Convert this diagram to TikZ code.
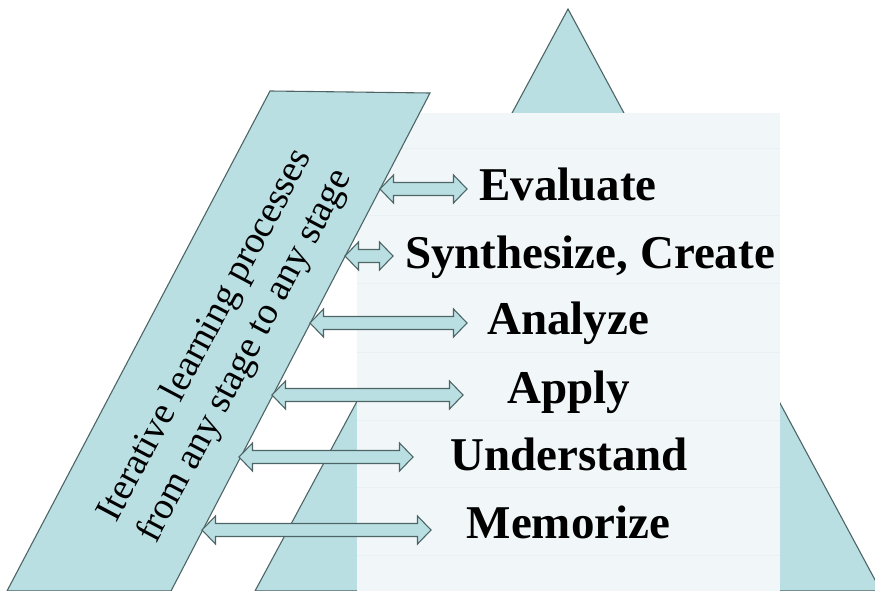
\documentclass[tikz,border=0pt]{standalone}
\usepackage{fontspec}
\setmainfont{Liberation Serif}
\usetikzlibrary{calc}
\definecolor{tealfill}{HTML}{BADFE3}
\definecolor{edgec}{HTML}{4E6566}
\definecolor{panel}{HTML}{F1F7F9}
\definecolor{rulec}{HTML}{E8F0F3}
\newcommand\dblarr[2]{\path[dbl] let \p1=(#1), \p2=(#2) in
  (\x1,\y1) -- (\x1+13.5pt,\y1+14pt) -- (\x1+13.5pt,\y1+6.5pt) -- (\x2-13.5pt,\y1+6.5pt)
  -- (\x2-13.5pt,\y1+14pt) -- (\x2,\y1) -- (\x2-13.5pt,\y1-14pt) -- (\x2-13.5pt,\y1-6.5pt)
  -- (\x1+13.5pt,\y1-6.5pt) -- (\x1+13.5pt,\y1-14pt) -- cycle;}
\begin{document}
\begin{tikzpicture}[x=1pt,y=-1pt,
  shapeline/.style={draw=edgec, line width=1.1pt, fill=tealfill, line join=miter},
  dbl/.style={draw=edgec, line width=1.1pt, fill=tealfill, line join=miter},
  stage/.style={font=\fontsize{47}{50}\selectfont\bfseries, anchor=base, inner sep=0pt}]
\useasboundingbox (0,0) rectangle (875,591);
\clip (0,0) rectangle (875,591);
% pyramid
\draw[shapeline] (568,9) -- (881,591) -- (255,591) -- cycle;
% panel
\fill[panel] (357,113) rectangle (780,591);
\foreach \yy in {148,215,283,352,420,487,555}
  \draw[rulec, line width=0.8pt] (357,\yy) -- (780,\yy);
% parallelogram
\draw[shapeline] (270,91) -- (430,93) -- (171,591) -- (7,591) -- cycle;
\node[rotate=62, align=center, font=\fontsize{38}{45}\selectfont, inner sep=0pt]
  (iter) at (226,346) {Iterative learning processes\\from any stage to any stage};
% arrow end points
\coordinate (l1) at (380,189); \coordinate (r1) at (467,189);
\coordinate (l2) at (345,256); \coordinate (r2) at (393,256);
\coordinate (l3) at (310,323); \coordinate (r3) at (467,323);
\coordinate (l4) at (272,395); \coordinate (r4) at (463,395);
\coordinate (l5) at (239,457); \coordinate (r5) at (413,457);
\coordinate (l6) at (202,530); \coordinate (r6) at (431,530);
\dblarr{l1}{r1}
\dblarr{l2}{r2}
\dblarr{l3}{r3}
\dblarr{l4}{r4}
\dblarr{l5}{r5}
\dblarr{l6}{r6}
% stages
\node[stage] (eval) at (568,200) {Evaluate};
\node[stage] (synth) at (590,268) {Synthesize, Create};
\node[stage] (anal) at (568,334) {Analyze};
\node[stage] (appl) at (568.5,403) {Apply};
\node[stage] (unde) at (569,470) {Understand};
\node[stage] (memo) at (568.5,538) {Memorize};
\end{tikzpicture}
\end{document}
